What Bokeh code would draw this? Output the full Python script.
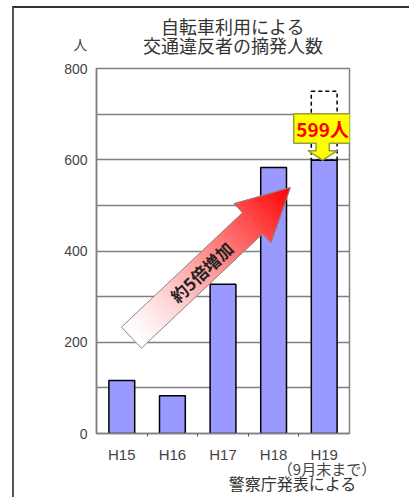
import math
from bokeh.plotting import figure
from bokeh.models import FixedTicker, Label
from bokeh.embed import file_html
from bokeh.resources import INLINE

# --- data -------------------------------------------------------------
years = ["H15", "H16", "H17", "H18", "H19"]
counts = [116, 83, 327, 583, 599]
projected_h19 = 750          # dashed outline above the H19 bar
y_ticks = [0, 200, 400, 600, 800]
grid_ticks = [0, 100, 200, 300, 400, 500, 600, 700, 800]
title_lines = ["自転車利用による", "交通違反者の摘発人数"]
unit_label = "人"
h19_note = "（9月末まで）"
source_note = "警察庁発表による"
growth_text = "約5倍増加"
latest_text = "599人"

# --- figure -----------------------------------------------------------
FRAME_W, FRAME_H = 253, 365
X0, X1 = 0, len(years)
Y0, Y1 = 0, 800
PX_X = FRAME_W / (X1 - X0)
PX_Y = FRAME_H / (Y1 - Y0)

JP = "Noto Sans CJK JP"
NUM = "Liberation Sans"

p = figure(frame_width=FRAME_W, frame_height=FRAME_H,
           x_range=(X0, X1), y_range=(Y0, Y1),
           min_border_left=82, min_border_right=60,
           min_border_top=60, min_border_bottom=64,
           output_backend="svg", toolbar_location=None,
           background_fill_color="white", border_fill_color="white")

# panel edge lines on the top and left of the whole chart
p.styles = {"margin-left": "12px", "margin-top": "6px",
            "border-left": "2px solid #555555",
            "border-top": "2px solid #333333"}

p.outline_line_color = "#808080"
p.outline_line_width = 1.5
p.xgrid.visible = False
p.ygrid.ticker = FixedTicker(ticks=grid_ticks)
p.ygrid.grid_line_color = "#808080"
p.ygrid.grid_line_width = 1.5

centers = [i + 0.5 for i in range(len(years))]
bounds = [i for i in range(1, len(years))]

xa = p.xaxis[0]
xa.ticker = FixedTicker(ticks=centers, minor_ticks=bounds)
xa.major_label_overrides = {c: y for c, y in zip(centers, years)}
xa.major_tick_out = 0
xa.major_tick_in = 0
xa.minor_tick_out = 3
xa.minor_tick_in = 0
xa.minor_tick_line_color = "#555555"
xa.axis_line_color = "#808080"
xa.axis_line_width = 1.5
xa.major_label_standoff = 9
xa.major_label_text_font = NUM
xa.major_label_text_font_size = "15px"
xa.major_label_text_color = "#444444"

ya = p.yaxis[0]
ya.ticker = FixedTicker(ticks=y_ticks)
ya.major_tick_out = 0
ya.major_tick_in = 0
ya.minor_tick_line_color = None
ya.axis_line_color = "#808080"
ya.axis_line_width = 1.5
ya.major_label_standoff = 9
ya.major_label_text_font = NUM
ya.major_label_text_font_size = "14px"
ya.major_label_text_color = "#444444"

# --- bars ---------------------------------------------------------------
BAR_W = 0.51
p.vbar(x=centers, top=counts, width=BAR_W, bottom=0,
       fill_color="#9999FF", line_color="black", line_width=1.5)

# projected total for H19 (dashed outline)
p.quad(left=[centers[-1] - BAR_W / 2], right=[centers[-1] + BAR_W / 2],
       bottom=[counts[-1]], top=[projected_h19],
       fill_color=None, line_color="black", line_width=1.5, line_dash="4 3")

# --- yellow callout pointing at the H19 bar ----------------------------
cx = centers[-1] - 0.03
box_hw = 1.146 / 2
box_top, box_bot = counts[-1] + 102, counts[-1] + 37
stem_hw, stem_bot = 0.13, counts[-1] + 21
head_hw = 0.29
tip = counts[-1]
cxs = [cx - box_hw, cx + box_hw, cx + box_hw, cx + stem_hw, cx + stem_hw,
       cx + head_hw, cx, cx - head_hw, cx - stem_hw, cx - stem_hw, cx - box_hw]
cys = [box_top, box_top, box_bot, box_bot, stem_bot,
       stem_bot, tip, stem_bot, stem_bot, box_bot, box_bot]
p.patch(cxs, cys, fill_color="#FFFF00", line_color="#9a9a40", line_width=1.5)
p.add_layout(Label(x=cx, y=(box_top + box_bot) / 2, text=latest_text,
                   text_align="center", text_baseline="middle",
                   text_font=JP, text_font_size="19px", text_font_style="bold",
                   text_color="#FF0000"))

# --- growth arrow with white-to-red gradient ---------------------------
tail = (0.69, 210)
head = (3.83, 539)
tx, ty = tail[0] * PX_X, tail[1] * PX_Y
hx, hy = head[0] * PX_X, head[1] * PX_Y
L = math.hypot(hx - tx, hy - ty)
ux, uy = (hx - tx) / L, (hy - ty) / L
nx, ny = -uy, ux
SHAFT_HW, HEAD_HW, HEAD_LEN = 14.5, 27.0, 52.0
LS = L - HEAD_LEN


def pt(t, s):
    """point at distance t along the arrow, offset s across it -> data"""
    px = tx + ux * t + nx * s
    py = ty + uy * t + ny * s
    return px / PX_X, py / PX_Y


def red_mix(f):
    g = int(round(255 * (1 - f ** 1.25)))
    return "#%02x%02x%02x" % (255, g, g)


xs_list, ys_list, cols = [], [], []
shaft_cuts = [LS * i / 50 for i in range(51)]
for t0, t1 in zip(shaft_cuts[:-1], shaft_cuts[1:]):
    a, b = pt(t0, -SHAFT_HW), pt(min(t1 + 0.3, LS), -SHAFT_HW)
    c, d = pt(min(t1 + 0.3, LS), SHAFT_HW), pt(t0, SHAFT_HW)
    xs_list.append([a[0], b[0], c[0], d[0]])
    ys_list.append([a[1], b[1], c[1], d[1]])
    cols.append(red_mix(((t0 + t1) / 2) / L))
head_cuts = [LS + HEAD_LEN * i / 20 for i in range(21)]
for t0, t1 in zip(head_cuts[:-1], head_cuts[1:]):
    w0 = HEAD_HW * (L - t0) / HEAD_LEN
    t1e = min(t1 + 0.3, L)
    w1 = HEAD_HW * (L - t1e) / HEAD_LEN
    a, b, c, d = pt(t0, -w0), pt(t1e, -w1), pt(t1e, w1), pt(t0, w0)
    xs_list.append([a[0], b[0], c[0], d[0]])
    ys_list.append([a[1], b[1], c[1], d[1]])
    cols.append(red_mix(((t0 + t1) / 2) / L))
p.patches(xs_list, ys_list, fill_color=cols, line_color=cols, line_width=0.6)

outline = [pt(0, -SHAFT_HW), pt(LS, -SHAFT_HW), pt(LS, -HEAD_HW), pt(L, 0),
           pt(LS, HEAD_HW), pt(LS, SHAFT_HW), pt(0, SHAFT_HW)]
p.patch([q[0] for q in outline], [q[1] for q in outline],
        fill_color=None, line_color="#8a8a8a", line_width=1)

lx, ly = pt(0.44 * L, 0)
p.add_layout(Label(x=lx, y=ly, text=growth_text, angle=math.atan2(uy, ux),
                   text_align="center", text_baseline="middle",
                   text_font=JP, text_font_size="17px", text_font_style="bold",
                   text_color="#222222"))

# --- titles and notes (placed in the side panels, outside the frame) ----
p.add_layout(Label(x=2.7, y=893, text=title_lines[0], text_align="center",
                   text_baseline="middle", text_font=JP, text_font_size="18px",
                   text_color="#333333"), "above")
p.add_layout(Label(x=2.7, y=851, text=title_lines[1], text_align="center",
                   text_baseline="middle", text_font=JP, text_font_size="18px",
                   text_color="#333333"), "above")
p.add_layout(Label(x=-0.32, y=853, text=unit_label, text_align="center",
                   text_baseline="middle", text_font=JP, text_font_size="14px",
                   text_color="#444444"), "left")
p.add_layout(Label(x=4.555, y=-76, text=h19_note, text_align="center",
                   text_baseline="middle", text_font=JP, text_font_size="15px",
                   text_color="#444444"), "below")
p.add_layout(Label(x=3.88, y=-109, text=source_note, text_align="center",
                   text_baseline="middle", text_font=JP, text_font_size="16px",
                   text_color="#333333"), "below")

open("out.html", "w").write(file_html(p, INLINE))
